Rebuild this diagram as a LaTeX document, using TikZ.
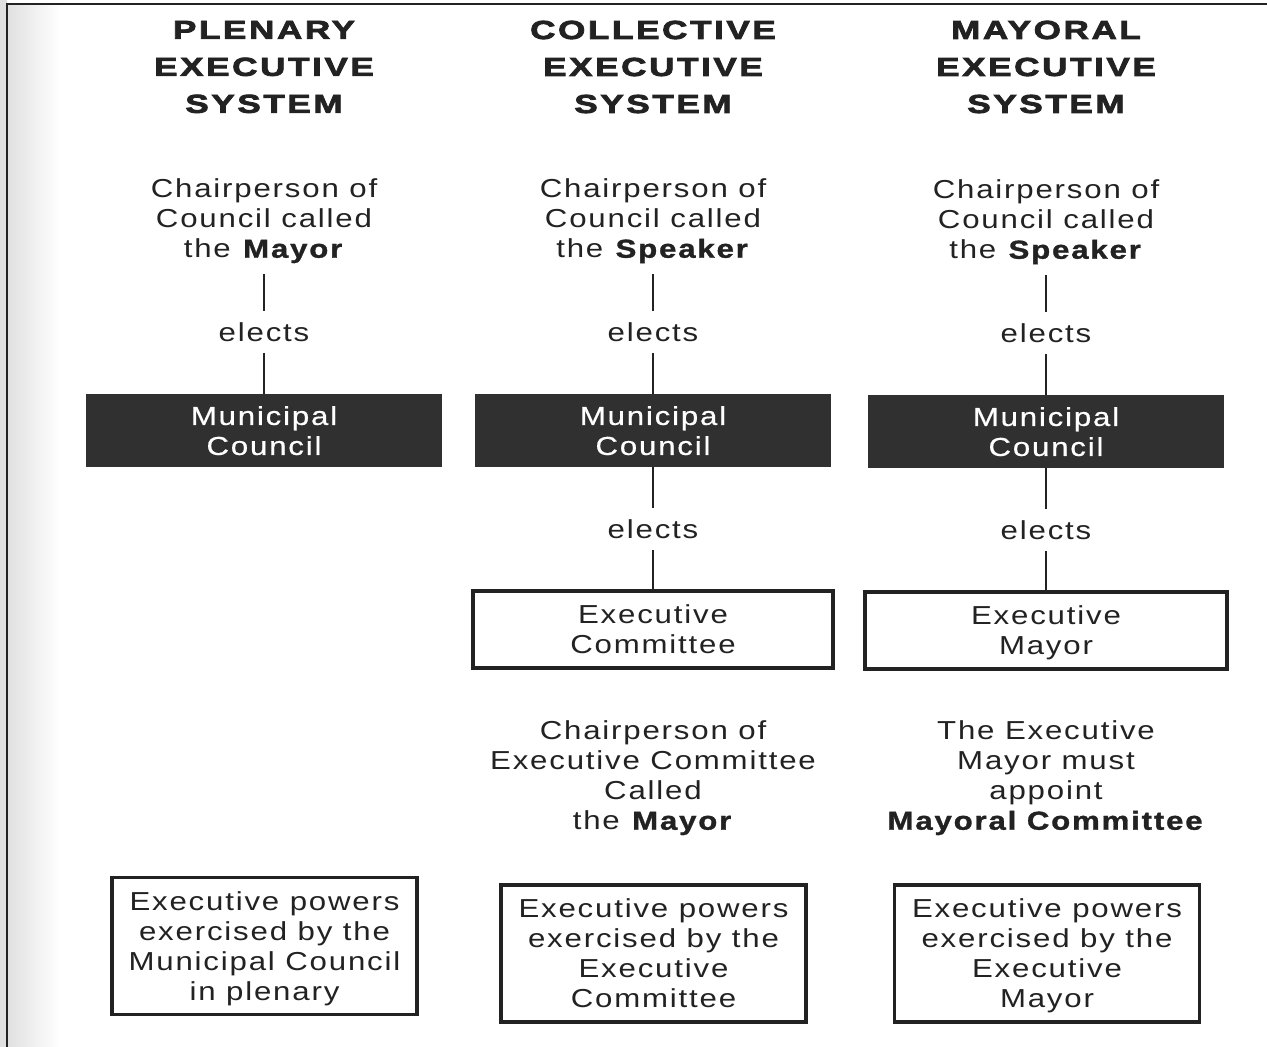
\documentclass[tikz,border=0pt]{standalone}
\usepackage{fontspec}
\setmainfont{Liberation Sans}[FakeStretch=1.2,LetterSpace=7,BoldFeatures={FakeBold=1.2}]
\newfontfamily\headfont{Liberation Sans}[FakeStretch=1.35,LetterSpace=10,BoldFeatures={FakeBold=3}]
\newfontfamily\medfont{Liberation Sans}[FakeStretch=1.2,LetterSpace=7,FakeBold=0.6]
\definecolor{ink}{HTML}{222222}
\definecolor{darkbox}{HTML}{303030}
\begin{document}
\begin{tikzpicture}[x=1pt,y=-1pt,
  head/.style={font=\headfont\bfseries\fontsize{26}{37}\selectfont, align=center, text=ink, inner sep=0},
  txt/.style={font=\fontsize{26}{30}\selectfont, align=center, text=ink, inner sep=0},
  link/.style={txt, inner ysep=11},
  conn/.style={draw=ink, line width=1.6},
  council/.style={fill=darkbox, draw=darkbox, text=white, minimum width=355, minimum height=72, align=center,
     font=\medfont\fontsize{26}{30}\selectfont, inner sep=0, text depth=0pt},
  wbox/.style={draw=ink, line width=3.2, fill=white, text=ink, minimum width=360, minimum height=77, align=center,
     font=\fontsize{26}{30}\selectfont, inner sep=0, text depth=0pt},
  pbox/.style={draw=ink, line width=3.2, fill=white, text=ink, minimum width=305, minimum height=137, align=center,
     font=\fontsize{26}{30}\selectfont, inner sep=0, text depth=0pt}
]
\useasboundingbox (0,0) rectangle (1267,1047);
\fill[white] (0,0) rectangle (1267,1047);
\shade[left color=black!12, right color=white] (7,4) rectangle (60,1047);
\fill[black!12] (0,0) rectangle (7,1047);
\draw[ink, line width=2] (7,1047) -- (7,4) -- (1267,4);

% headings
\node[head] (h1) at (264,67) {PLENARY\\EXECUTIVE\\SYSTEM};
\node[head] (h2) at (653,67) {COLLECTIVE\\EXECUTIVE\\SYSTEM};
\node[head] (h3) at (1046,67) {MAYORAL\\EXECUTIVE\\SYSTEM};

% chairpersons
\node[link] (c1) at (264,221) {Chairperson of\\Council called\\the \textbf{Mayor}};
\node[link] (c2) at (653,221) {Chairperson of\\Council called\\the \textbf{Speaker}};
\node[link] (c3) at (1046,222) {Chairperson of\\Council called\\the \textbf{Speaker}};

\node[link] (e1) at (264,332) {elects};
\node[link] (e2) at (653,332) {elects};
\node[link] (e3) at (1046,333) {elects};

\node[council] (m1) at (264,430.5) {Municipal\\Council};
\node[council] (m2) at (653,430.5) {Municipal\\Council};
\node[council] (m3) at (1046,431.5) {Municipal\\Council};

\node[link] (f2) at (653,529) {elects};
\node[link] (f3) at (1046,530) {elects};

\node[wbox, minimum width=360] (x2) at (653,629.5) {Executive\\Committee};
\node[wbox, minimum width=362] (x3) at (1046,630.5) {Executive\\Mayor};

\node[txt] (d2) at (653,778) {Chairperson of\\Executive Committee\\Called\\the \textbf{Mayor}};
\node[txt] (d3) at (1046,778) {The Executive\\Mayor must\\appoint\\\textbf{Mayoral Committee}};

\node[pbox] (p1) at (264.5,946) {Executive powers\\exercised by the\\Municipal Council\\in plenary};
\node[pbox] (p2) at (653.5,953.5) {Executive powers\\exercised by the\\Executive\\Committee};
\node[pbox] (p3) at (1047,953.5) {Executive powers\\exercised by the\\Executive\\Mayor};

\draw[conn] (c1.south) -- (e1.north);
\draw[conn] (e1.south) -- (m1.north);
\draw[conn] (c2.south) -- (e2.north);
\draw[conn] (e2.south) -- (m2.north);
\draw[conn] (c3.south) -- (e3.north);
\draw[conn] (e3.south) -- (m3.north);
\draw[conn] (m2.south) -- (f2.north);
\draw[conn] (f2.south) -- (x2.north);
\draw[conn] (m3.south) -- (f3.north);
\draw[conn] (f3.south) -- (x3.north);
\end{tikzpicture}
\end{document}
